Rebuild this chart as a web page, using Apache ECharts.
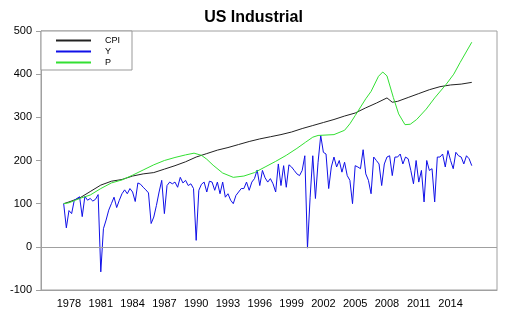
<!DOCTYPE html>
<html>
<head>
<meta charset="utf-8">
<title>US Industrial</title>
<script src="https://cdn.jsdelivr.net/npm/echarts@6/dist/echarts.min.js"></script>
<style>
  html, body { margin: 0; padding: 0; background: #fff; }
  #chart { width: 507px; height: 323px; }
</style>
</head>
<body>
<div id="chart"></div>
<script>
// 年份刻度
var yearTicks = [1978, 1981, 1984, 1987, 1990, 1993, 1996, 1999, 2002, 2005, 2008, 2011, 2014];

// Y: quarterly, 1977Q3 .. 2016Q1
var yStart = 1977.5;
var yValues = [
  100, 44, 84, 77, 108, 112, 116, 70, 117, 108, 112, 106, 110, 121,
  -58, 42, 62, 85, 100, 115, 91, 108, 123, 132, 123, 135, 127, 105,
  148, 145, 138, 132, 125, 54, 69, 96, 127, 154, 77, 142, 150, 146,
  150, 138, 161, 148, 154, 142, 146, 135, 15, 131, 145, 150, 127, 152,
  150, 131, 150, 123, 150, 115, 123, 108, 100, 119, 127, 135, 135, 150,
  131, 150, 158, 178, 142, 177, 160, 150, 158, 146, 127, 192, 142, 188,
  138, 190, 185, 177, 169, 165, 177, 211, -3,
  115, 211, 112, 196, 258, 219, 215, 135, 185, 208, 185, 200, 173, 196,
  165, 154, 100, 188, 185, 181, 225, 169, 154, 123, 208, 200, 192, 142,
  192, 208, 211, 165, 208, 208, 215, 192, 208, 204, 177, 146, 200, 150,
  177, 104, 200, 177, 181, 104, 208, 208, 215, 185, 223, 200, 181, 219,
  211, 208, 192, 211, 204, 188
];

// CPI
var cpiDates = [1977.5, 1978, 1979, 1980, 1981, 1982, 1983, 1984, 1985, 1986, 1987, 1988,
  1989, 1990, 1991, 1992, 1993, 1994, 1995, 1996, 1997, 1998, 1999, 2000, 2001, 2002,
  2003, 2004, 2005, 2006, 2007, 2008, 2008.5, 2009, 2010, 2011, 2012, 2013, 2014, 2015, 2016];
var cpiValues = [100, 104, 113, 128, 143, 152, 156, 164, 169, 172, 180, 188,
  197, 208, 216, 224, 230, 237, 244, 250, 255, 260, 266, 274, 281, 288,
  295, 303, 310, 322, 333, 345, 335, 337, 346, 355, 364, 371, 375, 377, 381];

// P
var pDates = [1977.5, 1978, 1979, 1980, 1981, 1982, 1983, 1984, 1985, 1986, 1987, 1988,
  1989, 1989.8, 1990.5, 1991, 1991.6, 1992.5, 1993.5, 1994.5, 1995.5, 1996.5, 1997.5,
  1998.5, 1999.5, 2000.3, 2001, 2001.5, 2003, 2004, 2004.5, 2005, 2006, 2006.5, 2007.2,
  2007.6, 2008, 2008.6, 2009.1, 2009.7, 2010.2, 2010.8, 2011.7, 2012.5, 2013.6, 2014.3,
  2014.9, 2016];
var pValues = [100, 102, 112, 120, 135, 148, 155, 166, 178, 190, 200, 207,
  213, 217, 212, 203, 189, 171, 161, 164, 172, 185, 198,
  212, 228, 242, 254, 258, 260, 270, 285, 304, 343, 360, 395,
  405, 396, 346, 308, 283, 284, 295, 319, 345, 377, 400,
  427, 474];

function pairs(xs, vs) {
  var out = [];
  for (var i = 0; i < vs.length; i++) out.push([xs[i], vs[i]]);
  return out;
}
var yData = [];
for (var i = 0; i < yValues.length; i++) yData.push([yStart + i * 0.25, yValues[i]]);

var gray = '#a0a0a0';
var myChart = echarts.init(document.getElementById('chart'));
var option = {
  backgroundColor: '#fff',
  animation: false,
  title: {
    text: 'US Industrial',
    left: 'center',
    top: 5,
    textStyle: { fontFamily: 'Arial, Liberation Sans', fontSize: 16, fontWeight: 'bold', color: '#000' }
  },
  legend: {
    orient: 'vertical',
    left: 41,
    top: 31,
    padding: [5, 12, 3, 14],
    itemGap: 2,
    itemWidth: 35,
    itemHeight: 9,
    borderColor: '#999',
    borderWidth: 1,
    backgroundColor: '#fff',
    itemStyle: { opacity: 0 },
    textStyle: { fontFamily: 'Arial, Liberation Sans', fontSize: 9, color: '#000', padding: [0, 0, 0, 9] },
    data: ['CPI', 'Y', 'P']
  },
  grid: {
    left: 41, right: 10, top: 31, bottom: 33,
    containLabel: false,
    show: true,
    borderColor: gray,
    borderWidth: 1
  },
  xAxis: {
    type: 'value',
    min: 1975.36,
    max: 2018.38,
    axisLine: { onZero: false, lineStyle: { color: gray } },
    axisTick: { show: false },
    splitLine: { show: false },
    axisLabel: {
      customValues: yearTicks,
      margin: 8,
      fontFamily: 'Arial, Liberation Sans',
      fontSize: 11,
      color: '#000',
      formatter: function (v) { return String(v); }
    }
  },
  yAxis: {
    type: 'value',
    min: -100,
    max: 500,
    interval: 100,
    axisLine: { show: true, lineStyle: { color: gray } },
    axisTick: { show: true, length: 5, lineStyle: { color: gray } },
    splitLine: { show: false },
    axisLabel: { margin: 9, fontFamily: 'Arial, Liberation Sans', fontSize: 11, color: '#000' }
  },
  series: [
    {
      name: 'CPI', type: 'line', symbol: 'none',
      lineStyle: { width: 1, color: '#222' }, itemStyle: { color: '#222' },
      data: pairs(cpiDates, cpiValues),
      markLine: {
        silent: true, symbol: 'none', label: { show: false },
        lineStyle: { color: gray, type: 'solid', width: 1 },
        data: [{ yAxis: 0 }]
      }
    },
    {
      name: 'Y', type: 'line', symbol: 'none',
      lineStyle: { width: 1, color: '#1010e8' }, itemStyle: { color: '#1010e8' },
      data: yData
    },
    {
      name: 'P', type: 'line', symbol: 'none',
      lineStyle: { width: 1, color: '#33e033' }, itemStyle: { color: '#33e033' },
      data: pairs(pDates, pValues)
    }
  ]
};
myChart.setOption(option);
</script>
</body>
</html>
